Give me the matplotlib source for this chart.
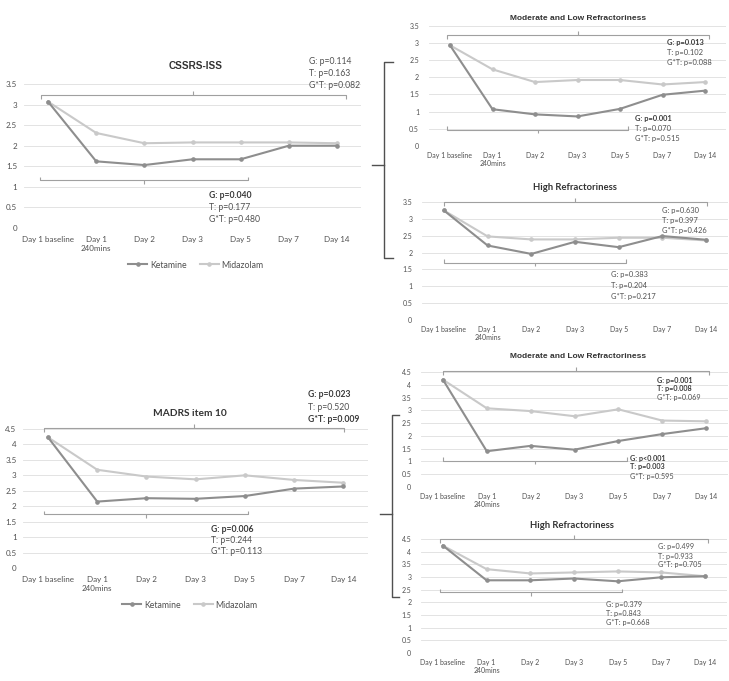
import matplotlib
matplotlib.use("Agg")
import matplotlib.pyplot as plt
from matplotlib.lines import Line2D

# data
days = ["Day 1 baseline", "Day 1\n240mins", "Day 2", "Day 3", "Day 5", "Day 7", "Day 14"]
groups = ["Ketamine", "Midazolam"]

cssrs_ket = [3.07, 1.62, 1.53, 1.67, 1.67, 2.00, 2.00]
cssrs_mid = [3.07, 2.31, 2.06, 2.08, 2.08, 2.08, 2.06]
cssrs_ml_ket = [2.93, 1.07, 0.92, 0.86, 1.08, 1.49, 1.61]
cssrs_ml_mid = [2.93, 2.23, 1.86, 1.92, 1.92, 1.79, 1.86]
cssrs_hi_ket = [3.25, 2.21, 1.96, 2.32, 2.16, 2.49, 2.38]
cssrs_hi_mid = [3.25, 2.48, 2.39, 2.39, 2.44, 2.44, 2.36]

madrs_ket = [4.23, 2.15, 2.26, 2.24, 2.33, 2.57, 2.64]
madrs_mid = [4.23, 3.18, 2.96, 2.87, 3.00, 2.85, 2.76]
madrs_ml_ket = [4.20, 1.40, 1.61, 1.46, 1.80, 2.07, 2.30]
madrs_ml_mid = [4.20, 3.08, 2.97, 2.77, 3.04, 2.60, 2.57]
madrs_hi_ket = [4.24, 2.87, 2.87, 2.94, 2.83, 2.99, 3.03]
madrs_hi_mid = [4.24, 3.31, 3.14, 3.18, 3.22, 3.18, 3.03]

# p-values: (text, bold)
cssrs_all = [("G: p=0.114", 0), ("T: p=0.163", 0), ("G*T: p=0.082", 0)]
cssrs_early = [("G: p=0.040", 1), ("T: p=0.177", 0), ("G*T: p=0.480", 0)]
cssrs_ml_all = [("G: p=0.013", 1), ("T: p=0.102", 0), ("G*T: p=0.088", 0)]
cssrs_ml_early = [("G: p=0.001", 1), ("T: p=0.070", 0), ("G*T: p=0.515", 0)]
cssrs_hi_all = [("G: p=0.630", 0), ("T: p=0.397", 0), ("G*T: p=0.426", 0)]
cssrs_hi_early = [("G: p=0.383", 0), ("T: p=0.204", 0), ("G*T: p=0.217", 0)]
madrs_all = [("G: p=0.023", 1), ("T: p=0.520", 0), ("G*T: p=0.009", 1)]
madrs_early = [("G: p=0.006", 1), ("T: p=0.244", 0), ("G*T: p=0.113", 0)]
madrs_ml_all = [("G: p=0.001", 1), ("T: p=0.008", 1), ("G*T: p=0.069", 0)]
madrs_ml_early = [("G: p<0.001", 1), ("T: p=0.003", 1), ("G*T: p=0.595", 0)]
madrs_hi_all = [("G: p=0.499", 0), ("T: p=0.933", 0), ("G*T: p=0.705", 0)]
madrs_hi_early = [("G: p=0.379", 0), ("T: p=0.843", 0), ("G*T: p=0.668", 0)]

W, H = 729, 681
KET_C = "#8e8e8e"
MID_C = "#c9c9c9"
TXT_C = "#505050"
BR_C = "#a0a0a0"

fig = plt.figure(figsize=(W / 100, H / 100), dpi=100)
fig.patch.set_facecolor("white")


def px_axes(l, r, t, b):
    return fig.add_axes([l / W, 1 - b / H, (r - l) / W, (b - t) / H])


def bracket(ax, x0, x1, y, up, hpx):
    # up=True: ends go down, middle tick up (top bracket)
    lo, hi = ax.get_ylim()
    bb = ax.get_position()
    d = hpx * (hi - lo) / (bb.height * H)
    s = -1 if up else 1
    xm = (x0 + x1) / 2
    kw = dict(color=BR_C, lw=0.8, clip_on=False, solid_capstyle="butt")
    ax.plot([x0, x0, x1, x1], [y + s * d, y, y, y + s * d], **kw)
    ax.plot([xm, xm], [y, y - s * d], **kw)


def stats(x, y, lines, dy, fs):
    for i, (s, b) in enumerate(lines):
        fig.text(x / W, 1 - (y + i * dy) / H, s, ha="left", va="center",
                 fontsize=fs, family="Lato", color="#3a3a3a" if b else TXT_C,
                 fontweight="bold" if b else "normal")


def panel(rect, ket, mid, ymax, title, tpos, tfont, tsize, top_br, bot_br,
          top_txt, bot_txt, tick_fs, pad_x, pad_y, legend_pos=None):
    ax = px_axes(*rect)
    x = list(range(len(days)))
    ax.set_xlim(-0.5, len(days) - 0.5)
    ax.set_ylim(0, ymax)
    ax.plot(x, ket, color=KET_C, lw=1.5, marker="o", ms=2.3, label=groups[0], zorder=3)
    ax.plot(x, mid, color=MID_C, lw=1.5, marker="o", ms=2.3, label=groups[1], zorder=2)
    yt = [i * 0.5 for i in range(int(ymax / 0.5) + 1)]
    ax.set_yticks(yt)
    ax.set_yticklabels([f"{v:g}" for v in yt])
    ax.set_xticks(x)
    ax.set_xticklabels(days)
    ax.grid(axis="y", color="#dedede", lw=0.6)
    ax.set_axisbelow(True)
    for sp in ax.spines.values():
        sp.set_visible(False)
    ax.tick_params(length=0, colors=TXT_C, labelsize=tick_fs)
    ax.tick_params(axis="x", pad=pad_x)
    ax.tick_params(axis="y", pad=pad_y)
    for lab in ax.get_xticklabels() + ax.get_yticklabels():
        lab.set_family("Lato")
    fig.text(tpos[0] / W, 1 - tpos[1] / H, title, ha="center", va="center",
             fontsize=tsize, family=tfont, fontweight="bold", color="#333333")
    bracket(ax, top_br[0], top_br[1], top_br[2], True, 4)
    bracket(ax, bot_br[0], bot_br[1], bot_br[2], False, 3.5)
    stats(*top_txt)
    stats(*bot_txt)
    if legend_pos is not None:
        bb = ax.get_position()
        lx = (legend_pos[0] / W - bb.x0) / bb.width
        ly = ((1 - legend_pos[1] / H) - bb.y0) / bb.height
        leg = ax.legend(loc="center", bbox_to_anchor=(lx, ly), ncol=2, frameon=False,
                        handlelength=2.2, handletextpad=0.3, columnspacing=1.5,
                        prop={"family": "Lato", "size": 6.3})
        for t in leg.get_texts():
            t.set_color(TXT_C)
    return ax


# CSSRS-ISS
panel((24, 361, 84, 228), cssrs_ket, cssrs_mid, 3.5, "CSSRS-ISS", (196, 66),
      "Liberation Sans", 7.2, (-0.15, 6.18, 3.24), (-0.17, 4.15, 1.16),
      (309, 62, cssrs_all, 11.5, 6.2), (209, 196, cssrs_early, 11.5, 6.2),
      5.8, 6, 5, legend_pos=(196, 265))
panel((428.75, 726.25, 25.7, 146), cssrs_ml_ket, cssrs_ml_mid, 3.5,
      "Moderate and Low Refractoriness", (578, 19), "Liberation Sans", 6,
      (-0.07, 6.09, 3.24), (-0.07, 4.19, 0.48),
      (667, 43, cssrs_ml_all, 10, 5.4), (635, 118, cssrs_ml_early, 10, 5.4),
      5.0, 4, 7)
panel((422, 728, 202, 320), cssrs_hi_ket, cssrs_hi_mid, 3.5,
      "High Refractoriness", (575, 187), "Lato", 6.8,
      (0, 6.02, 3.5), (0, 4.16, 1.70),
      (662, 211, cssrs_hi_all, 9.7, 5.4), (611, 275, cssrs_hi_early, 10.5, 5.4),
      5.0, 4, 7)

# MADRS item 10
panel((23.4, 368, 429, 568), madrs_ket, madrs_mid, 4.5, "MADRS item 10", (190, 413),
      "Lato", 7.3, (-0.08, 6.02, 4.52), (-0.08, 4.07, 1.74),
      (308, 395, madrs_all, 12, 6.2), (211, 529, madrs_early, 11.5, 6.2),
      5.8, 6, 5, legend_pos=(190, 605))
panel((421, 728, 372, 487), madrs_ml_ket, madrs_ml_mid, 4.5,
      "Moderate and Low Refractoriness", (578, 357), "Liberation Sans", 6,
      (0, 6.07, 4.53), (0, 4.2, 1.02),
      (657, 380, madrs_ml_all, 8.6, 5.2), (630, 458, madrs_ml_early, 9, 5.2),
      5.0, 4, 7)
panel((421, 727, 539, 653), madrs_hi_ket, madrs_hi_mid, 4.5,
      "High Refractoriness", (572, 525), "Lato", 6.8,
      (-0.07, 6.06, 4.5), (-0.07, 4.1, 2.40),
      (658, 547, madrs_hi_all, 9, 5.2), (606, 604, madrs_hi_early, 9.5, 5.2),
      5.0, 4, 7)


# curly braces linking overall panels to subgroup panels
def brace(x, y0, y1, ym, hook, stub):
    kw = dict(color="#505050", lw=1.0, transform=fig.transFigure)
    fig.add_artist(Line2D([(x + hook) / W, x / W, x / W, (x + hook) / W],
                          [1 - y0 / H, 1 - y0 / H, 1 - y1 / H, 1 - y1 / H], **kw))
    fig.add_artist(Line2D([(x - stub) / W, x / W], [1 - ym / H, 1 - ym / H], **kw))


brace(384, 62, 258, 165, 9, 12)
brace(392, 415, 597, 514, 7, 12)

fig.savefig("out.png", dpi=100, facecolor="white")
